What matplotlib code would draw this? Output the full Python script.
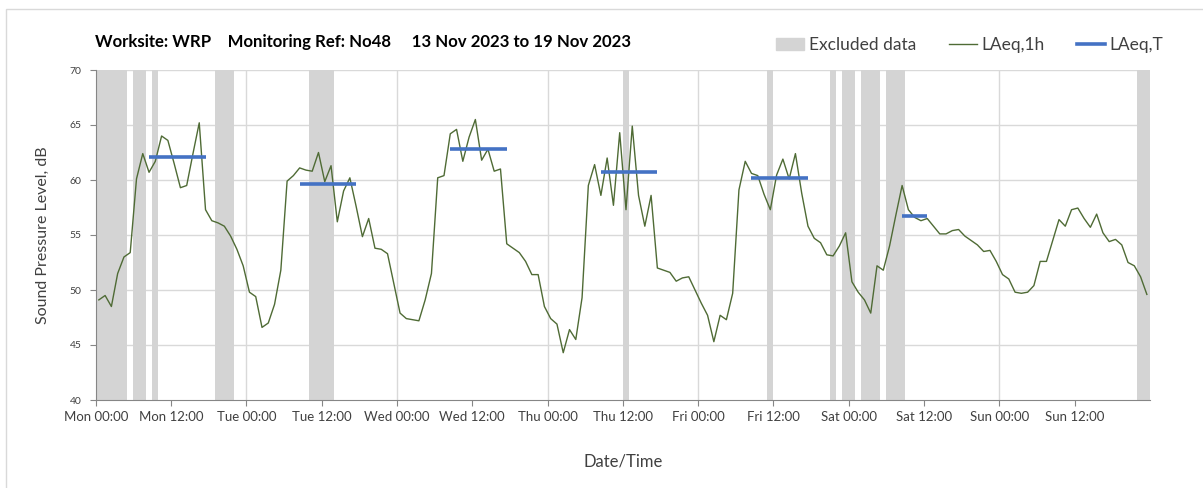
import matplotlib
matplotlib.use("Agg")
import matplotlib.pyplot as plt
import matplotlib.patches as mpatches
from matplotlib.lines import Line2D
import numpy as np

plt.rcParams['font.family'] = ['Lato', 'DejaVu Sans']

# ---- data ----
laeq_1h = [49.1, 49.5, 48.5, 51.5, 53.0, 53.4, 60.1, 62.4, 60.7, 61.7, 64.0, 63.6,
           61.5, 59.3, 59.5, 62.4, 65.2, 57.3, 56.3, 56.1, 55.8, 54.9, 53.7, 52.2,
           49.8, 49.4, 46.6, 47.0, 48.7, 51.8, 59.9, 60.4, 61.1, 60.9, 60.8, 62.5,
           59.85, 61.3, 56.2, 59.0, 60.2, 57.6, 54.85, 56.5, 53.8, 53.7, 53.3, 50.6,
           47.9, 47.4, 47.3, 47.2, 49.1, 51.5, 60.2, 60.4, 64.2, 64.6, 61.7, 63.9,
           65.5, 61.8, 62.8, 60.8, 61.0, 54.2, 53.8, 53.4, 52.6, 51.4, 51.4, 48.5,
           47.4, 46.9, 44.3, 46.4, 45.5, 49.3, 59.5, 61.4, 58.6, 62.0, 57.7, 64.3,
           57.3, 64.9, 58.6, 55.8, 58.6, 52.0, 51.8, 51.6, 50.8, 51.1, 51.2, 50.0,
           48.8, 47.7, 45.3, 47.7, 47.3, 49.7, 59.1, 61.7, 60.6, 60.4, 58.7, 57.3,
           60.45, 61.9, 60.1, 62.4, 58.8, 55.8, 54.7, 54.3, 53.2, 53.1, 54.0, 55.2,
           50.75, 49.8, 49.1, 47.9, 52.2, 51.8, 54.0, 56.8, 59.5, 57.3, 56.6, 56.3,
           56.5, 55.8, 55.1, 55.1, 55.4, 55.5, 54.9, 54.5, 54.1, 53.5, 53.6, 52.6,
           51.4, 51.0, 49.8, 49.7, 49.8, 50.4, 52.6, 52.6, 54.5, 56.4, 55.8, 57.3,
           57.45, 56.5, 55.7, 56.9, 55.2, 54.4, 54.6, 54.1, 52.5, 52.2, 51.2, 49.6]

# LAeq,T periods (hour index start/end, inclusive) and values
laeqT_start = [8, 32, 56, 80, 104, 128]
laeqT_end = [17, 41, 65, 89, 113, 132]
laeqT_val = [62.1, 59.6, 62.8, 60.7, 60.2, 56.7]

# Excluded data periods (hours from Mon 00:00)
excl_start = [0, 6, 9, 19, 34, 84, 107, 117, 119, 122, 126, 166]
excl_end = [5, 8, 10, 22, 38, 85, 108, 118, 121, 125, 129, 168]

tick_labels = ['Mon 00:00', 'Mon 12:00', 'Tue 00:00', 'Tue 12:00', 'Wed 00:00',
               'Wed 12:00', 'Thu 00:00', 'Thu 12:00', 'Fri 00:00', 'Fri 12:00',
               'Sat 00:00', 'Sat 12:00', 'Sun 00:00', 'Sun 12:00']

# ---- figure ----
fig = plt.figure(figsize=(12.03, 4.88), dpi=100)
ax = fig.add_axes([95.7 / 1203, 88 / 488, (1150 - 95.7) / 1203, 330 / 488])

# outer chart border
fig.patches.append(mpatches.Rectangle((5.5 / 1203, -0.01), 1.0, (488 - 9) / 488 + 0.01,
                                      transform=fig.transFigure, fill=False,
                                      edgecolor='#d9d9d9', linewidth=1.0))

grey = '#d4d4d4'
for s, e in zip(excl_start, excl_end):
    ax.axvspan(s, e, color=grey, lw=0, zorder=1)

hours = np.arange(len(laeq_1h)) + 0.5
ax.plot(hours, laeq_1h, color='#4f6b35', lw=1.0, zorder=3)

for s, e, v in zip(laeqT_start, laeqT_end, laeqT_val):
    ax.plot([s + 0.5, e + 0.5], [v, v], color='#4472c4', lw=2.6,
            solid_capstyle='butt', zorder=4)

ax.set_xlim(0, 168)
ax.set_ylim(40, 70)
ax.set_yticks(np.arange(40, 71, 5))
ax.set_xticks(np.arange(0, 168, 12))
ax.set_xticklabels(tick_labels)

ax.grid(False)
for y in np.arange(45, 71, 5):
    ax.axhline(y, color='#d9d9d9', lw=1.0, zorder=0.5)
for x in np.arange(24, 168, 24):
    ax.axvline(x, color='#d9d9d9', lw=1.0, zorder=0.5)

for side in ['top', 'right']:
    ax.spines[side].set_visible(False)
ax.spines['bottom'].set_color('#868686')
ax.spines['left'].set_color('#868686')
ax.spines['bottom'].set_zorder(5)

ax.tick_params(axis='x', which='major', length=4, color='#868686', labelsize=9.5,
               labelcolor='#404040', pad=4)
ax.tick_params(axis='y', length=4, color='#868686', labelsize=7.5,
               labelcolor='#404040', pad=6)

ax.set_ylabel('Sound Pressure Level, dB', fontsize=11.5, color='#404040', labelpad=14)
ax.set_xlabel('Date/Time', fontsize=12, color='#404040', labelpad=22)

fig.text(95 / 1203, 1 - 42 / 488,
         'Worksite: WRP    Monitoring Ref: No48     13 Nov 2023 to 19 Nov 2023',
         fontsize=12.1, fontweight='bold', color='black', va='center', ha='left')

handles = [mpatches.Patch(color=grey),
           Line2D([0], [0], color='#4f6b35', lw=1.0),
           Line2D([0], [0], color='#4472c4', lw=2.6)]
labels = ['Excluded data', 'LAeq,1h', 'LAeq,T']
fig.legend(handles, labels, loc='center right', bbox_to_anchor=(1163 / 1203, 1 - 45 / 488),
           ncol=3, frameon=False, fontsize=12.5, handlelength=1.6, handletextpad=0.25,
           columnspacing=1.9, labelcolor='#404040', borderpad=0, borderaxespad=0)

fig.savefig('out.png', dpi=100)
